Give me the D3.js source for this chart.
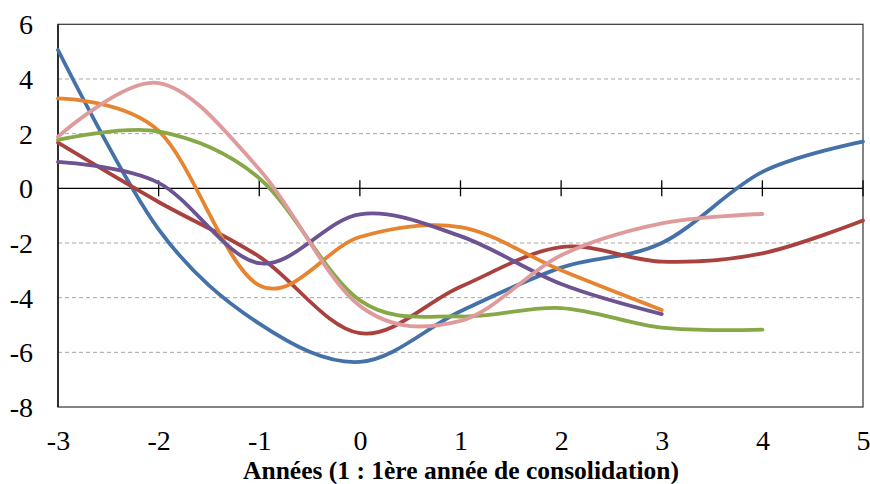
<!DOCTYPE html>
<html><head><meta charset="utf-8">
<script src="https://cdn.jsdelivr.net/npm/d3@7"></script>
<style>body{margin:0;background:#fff;} svg{display:block;}</style>
</head><body>
<svg id="c" width="870" height="484"></svg>
<script>
const years = [-3, -2, -1, 0, 1, 2, 3, 4, 5];
const yTicks = [-8, -6, -4, -2, 0, 2, 4, 6];
const xTicks = [-3, -2, -1, 0, 1, 2, 3, 4, 5];
const blue   = [5.06, -1.5, -4.95, -6.35, -4.5, -2.9, -2.0, 0.6, 1.71];
const red    = [1.67, -0.5, -2.5, -5.3, -3.6, -2.15, -2.68, -2.38, -1.18];
const orange = [3.29, 2.1, -3.55, -1.78, -1.42, -3.0, -4.45];
const green  = [1.77, 2.08, 0.37, -4.1, -4.69, -4.38, -5.1, -5.17];
const purple = [0.97, 0.2, -2.74, -0.95, -1.75, -3.5, -4.6];
const pink   = [1.89, 3.85, 0.7, -4.3, -4.85, -2.45, -1.28, -0.94];
const xTitle = "Années (1 : 1ère année de consolidation)";

const series = [
  {v: blue, c: "#4472a8"},
  {v: red, c: "#a9423f"},
  {v: orange, c: "#e6842f"},
  {v: green, c: "#87a846"},
  {v: purple, c: "#6c5391"},
  {v: pink, c: "#df9b9b"}
];

const L = 58, R = 863, T = 24.3, B = 407;
const svg = d3.select("#c");
const x = d3.scaleLinear().domain([-3, 5]).range([L, R]);
const y = d3.scaleLinear().domain([-8, 6]).range([B, T]);
const font = "'Liberation Serif','Times New Roman',serif";
const fmt = d => String(d);

// gridlines
svg.append("g").selectAll("line").data(yTicks.filter(t => t !== 0 && t !== -8 && t !== 6)).join("line")
  .attr("x1", L).attr("x2", R).attr("y1", d => y(d)).attr("y2", d => y(d))
  .attr("stroke", "#a6a6a6").attr("stroke-width", 1).attr("stroke-dasharray", "4,3");

// frame
svg.append("rect").attr("x", L).attr("y", T).attr("width", R - L).attr("height", B - T)
  .attr("fill", "none").attr("stroke", "#333").attr("stroke-width", 1.2);
svg.append("line").attr("x1", L).attr("x2", L).attr("y1", T).attr("y2", B).attr("stroke", "#000").attr("stroke-width", 1.3);

// y axis labels
const yAxis = d3.axisLeft(y).tickValues(yTicks).tickSize(0).tickPadding(25).tickFormat(fmt);
const gy = svg.append("g").attr("transform", `translate(${L},0)`).call(yAxis);
gy.select(".domain").remove();
gy.selectAll("text").attr("font-family", font).attr("font-size", 28).attr("fill", "#000").attr("dy", "0.34em");

// zero line with cross ticks
svg.append("line").attr("x1", L).attr("x2", R).attr("y1", y(0)).attr("y2", y(0)).attr("stroke", "#000").attr("stroke-width", 1.3);
svg.append("g").selectAll("line").data(xTicks.slice(1)).join("line")
  .attr("x1", d => x(d)).attr("x2", d => x(d)).attr("y1", y(0) - 8).attr("y2", y(0) + 8)
  .attr("stroke", "#000").attr("stroke-width", 1.3);

// x labels
const xAxis = d3.axisBottom(x).tickValues(xTicks).tickSize(0).tickPadding(23).tickFormat(fmt);
const gx = svg.append("g").attr("transform", `translate(0,${B})`).call(xAxis);
gx.select(".domain").remove();
gx.selectAll("text").attr("font-family", font).attr("font-size", 28).attr("fill", "#000");

svg.append("text").attr("x", 461).attr("y", 479).attr("text-anchor", "middle")
  .attr("font-family", font).attr("font-size", 25.5).attr("font-weight", "bold").text(xTitle);

// lines
const line = d3.line().x((d, i) => x(years[i])).y(d => y(d)).curve(d3.curveCardinal.tension(0));
svg.append("g").selectAll("path").data(series).join("path")
  .attr("d", s => line(s.v)).attr("fill", "none").attr("stroke", s => s.c)
  .attr("stroke-width", 3.8).attr("stroke-linecap", "round").attr("stroke-linejoin", "round");
</script>
</body></html>
